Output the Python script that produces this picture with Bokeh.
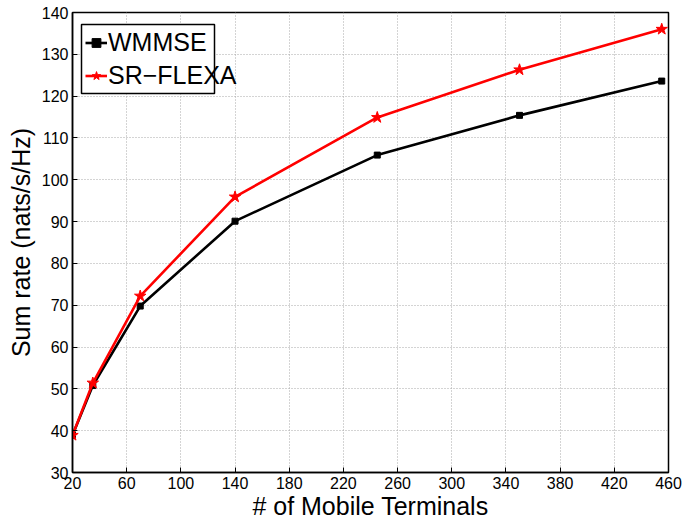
from bokeh.plotting import figure
from bokeh.models import (Range1d, FixedTicker, Legend, LegendItem, BoxAnnotation)
from bokeh.embed import file_html
from bokeh.resources import INLINE

# ---- data ----
terminals = [20, 35, 70, 140, 245, 350, 455]
wmmse = [38.9, 50.8, 69.8, 90.1, 105.9, 115.4, 123.6]
sr_flexa = [38.9, 51.4, 72.2, 95.9, 114.9, 126.3, 136.0]
x_ticks = [20, 60, 100, 140, 180, 220, 260, 300, 340, 380, 420, 460]
y_ticks = [30, 40, 50, 60, 70, 80, 90, 100, 110, 120, 130, 140]
x_label = "# of Mobile Terminals"
y_label = "Sum rate (nats/s/Hz)"

FONT = "Liberation Sans"

p = figure(width=683, height=529, output_backend="svg", toolbar_location=None,
           x_range=Range1d(20, 460), y_range=Range1d(30, 140),
           min_border_left=72, min_border_right=15, min_border_top=12,
           min_border_bottom=57)
p.background_fill_color = "white"
p.border_fill_color = "white"
p.outline_line_color = "black"
p.outline_line_width = 1.5

for ax, ticks in ((p.xaxis[0], x_ticks), (p.yaxis[0], y_ticks)):
    ax.ticker = FixedTicker(ticks=ticks)
    ax.major_tick_in = 5
    ax.major_tick_out = 0
    ax.minor_tick_in = 0
    ax.minor_tick_out = 0
    ax.axis_line_color = "black"
    ax.axis_line_width = 1.5
    ax.major_tick_line_color = "black"
    ax.major_label_text_font = FONT
    ax.major_label_text_font_size = "16px"
    ax.major_label_text_color = "black"
    ax.axis_label_text_font = FONT
    ax.axis_label_text_font_size = "25px"
    ax.axis_label_text_font_style = "normal"
    ax.axis_label_text_color = "black"

p.xaxis[0].axis_label = x_label
p.yaxis[0].axis_label = y_label
p.xaxis[0].major_label_standoff = 4
p.xaxis[0].axis_label_standoff = 0
p.yaxis[0].major_label_standoff = 4
p.yaxis[0].axis_label_standoff = 4

for g in (p.xgrid[0], p.ygrid[0]):
    g.grid_line_color = "#a8a8a8"
    g.grid_line_dash = "1 2"
    g.grid_line_width = 1
p.xgrid[0].ticker = FixedTicker(ticks=x_ticks)
p.ygrid[0].ticker = FixedTicker(ticks=y_ticks)

l1 = p.line(terminals, wmmse, line_color="black", line_width=2.6)
m1 = p.scatter(terminals, wmmse, marker="square", size=6, fill_color="black",
               line_color="black")
l2 = p.line(terminals, sr_flexa, line_color="red", line_width=2.6)
m2 = p.scatter(terminals, sr_flexa, marker="star", size=12, fill_color="red",
               line_color="red")

# legend frame (MATLAB style: text runs past the box); screen units from frame bottom-left
box = BoxAnnotation(left=9, right=142, bottom=379, top=448,
                    left_units="screen", right_units="screen",
                    top_units="screen", bottom_units="screen",
                    fill_color="white", fill_alpha=1,
                    line_color="black", line_alpha=1, line_width=1.5)
p.add_layout(box)

legend = Legend(items=[LegendItem(label="WMMSE", renderers=[l1, m1]),
                       LegendItem(label="SR\u2212FLEXA", renderers=[l2, m2])],
                location=(13, 380))
legend.label_text_font = FONT
legend.label_text_font_size = "25px"
legend.label_text_color = "black"
legend.glyph_width = 22
legend.glyph_height = 33
legend.label_height = 33
legend.label_standoff = 1
legend.spacing = 0
legend.padding = 0
legend.margin = 0
legend.border_line_alpha = 0
legend.background_fill_alpha = 0
p.add_layout(legend, "center")

open("out.html", "w").write(file_html(p, INLINE))
